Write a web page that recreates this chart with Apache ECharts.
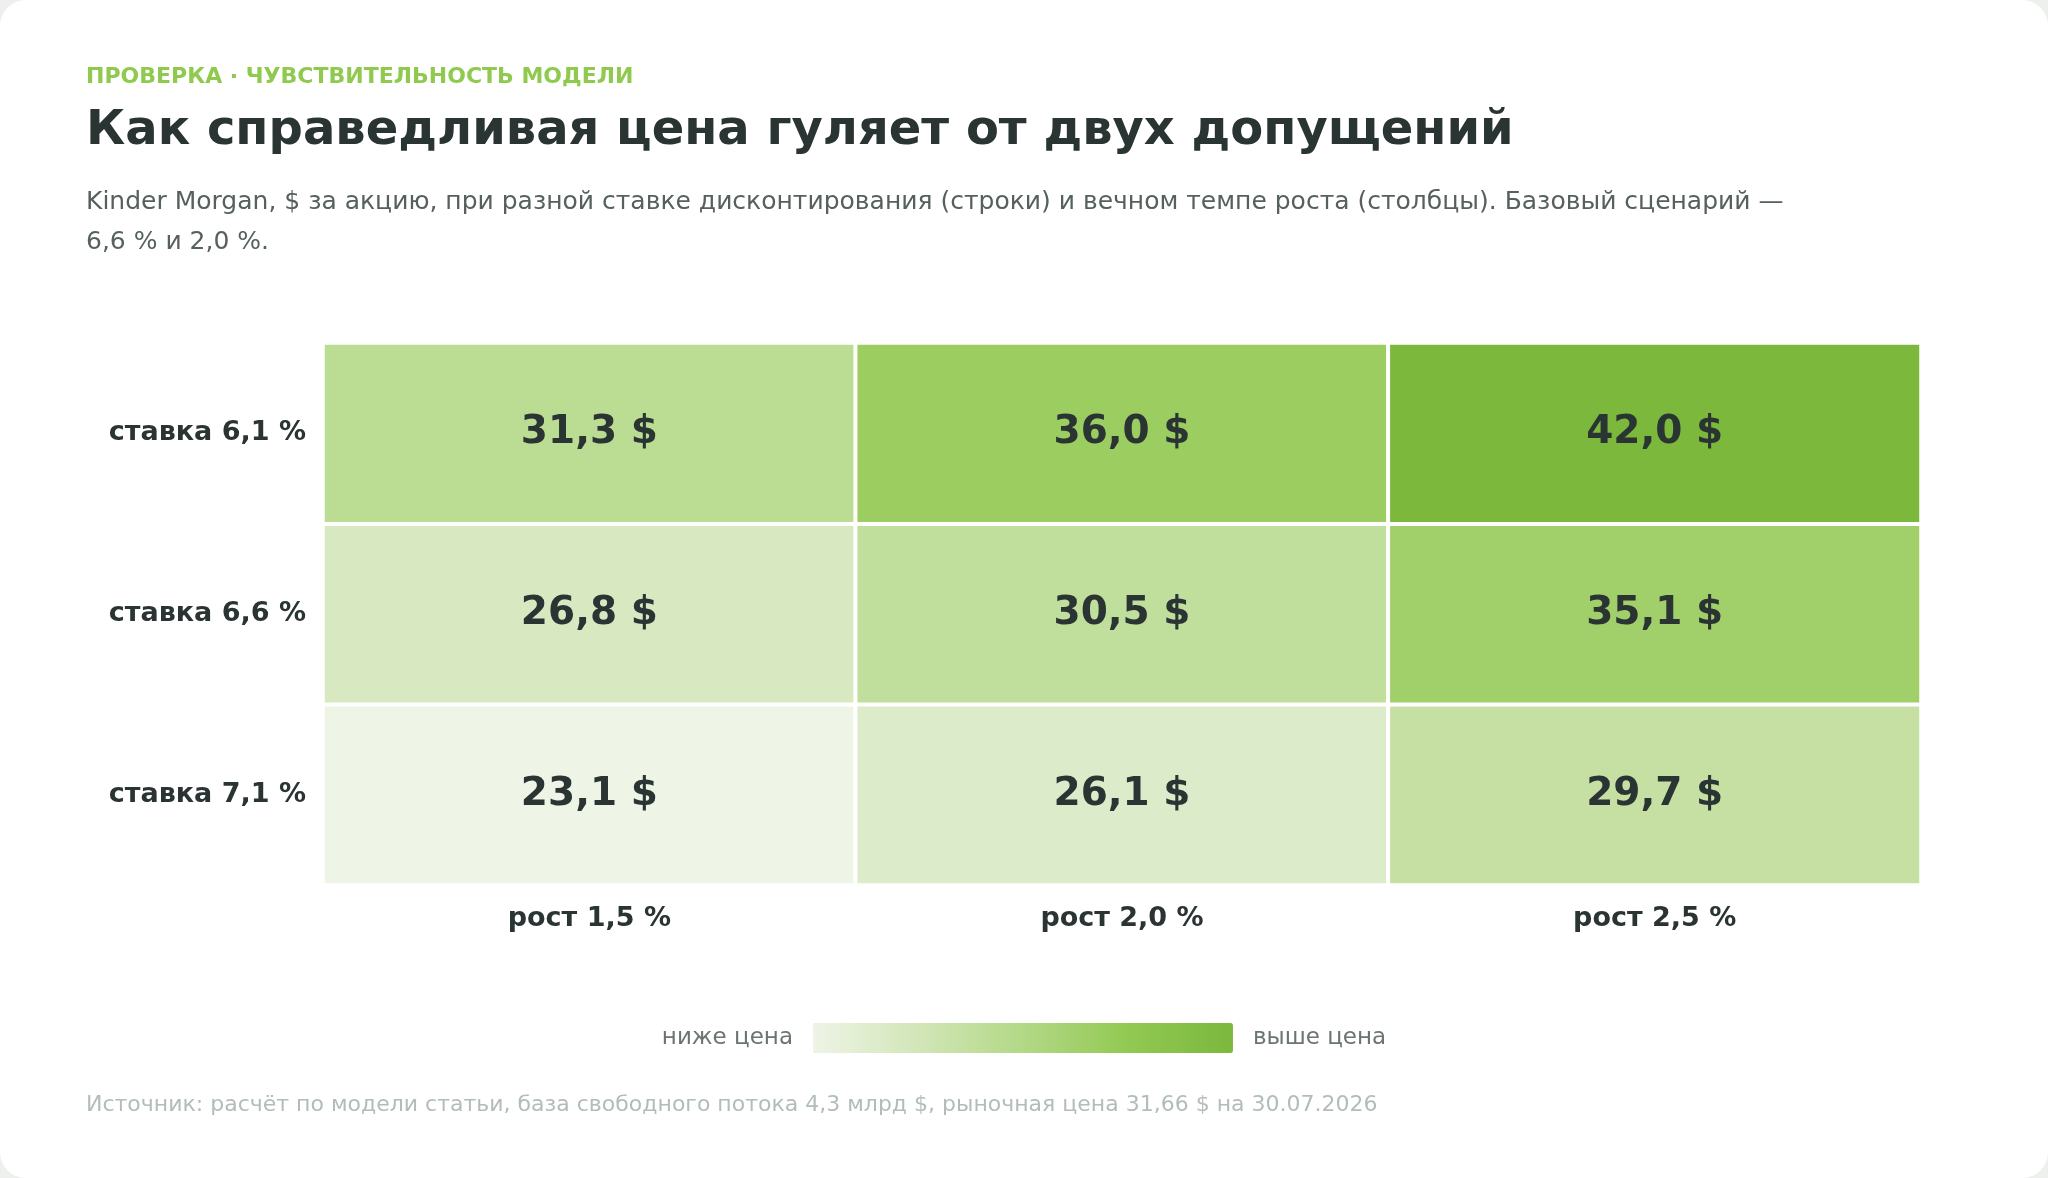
<!DOCTYPE html>
<html><head><meta charset="utf-8">
<script src="https://cdn.jsdelivr.net/npm/echarts@6/dist/echarts.min.js"></script>
<style>html,body{margin:0;padding:0;background:#eef0ee;}#c{width:2048px;height:1178px;background:#fff;border-radius:26px;overflow:hidden;}</style>
</head><body><div id="c"></div>
<script>
const growthCats = ['рост 1,5 %','рост 2,0 %','рост 2,5 %'];
const rateCats = ['ставка 7,1 %','ставка 6,6 %','ставка 6,1 %'];
const row61 = [31.3, 36.0, 42.0];
const row66 = [26.8, 30.5, 35.1];
const row71 = [23.1, 26.1, 29.7];
const rows = [row71, row66, row61];
const data = [];
rows.forEach((r, yi) => r.forEach((v, xi) => data.push([xi, yi, v])));
const font = 'DejaVu Sans';
const chart = echarts.init(document.getElementById('c'));
chart.setOption({
  textStyle:{fontFamily:font},
  title:[
    {text:'ПРОВЕРКА · ЧУВСТВИТЕЛЬНОСТЬ МОДЕЛИ',left:81,top:61,textStyle:{fontFamily:font,fontSize:22,fontWeight:'bold',color:'#8fca4f',letterSpacing:2}},
    {text:'Как справедливая цена гуляет от двух допущений',left:81,top:103,textStyle:{fontFamily:font,fontSize:48,fontWeight:'bold',color:'#2a3433'}},
    {text:'Kinder Morgan, $ за акцию, при разной ставке дисконтирования (строки) и вечном темпе роста (столбцы). Базовый сценарий —\n6,6 % и 2,0 %.',left:81,top:177,textStyle:{fontFamily:font,fontSize:25,fontWeight:'normal',color:'#56605f',lineHeight:40}},
    {text:'Источник: расчёт по модели статьи, база свободного потока 4,3 млрд $, рыночная цена 31,66 $ на 30.07.2026',left:81,top:1089,textStyle:{fontFamily:font,fontSize:22,fontWeight:'normal',color:'#b3bcbd'}}
  ],
  grid:{left:323,right:127,top:343,bottom:293},
  xAxis:{type:'category',data:growthCats,axisLine:{show:false},axisTick:{show:false},splitArea:{show:false},
    axisLabel:{fontFamily:font,fontSize:27,fontWeight:'bold',color:'#2a3433',margin:20}},
  yAxis:{type:'category',data:rateCats,axisLine:{show:false},axisTick:{show:false},
    axisLabel:{fontFamily:font,fontSize:27,fontWeight:'bold',color:'#2a3433',margin:17}},
  visualMap:{min:23.1,max:42.0,orient:'horizontal',left:'center',top:1008,itemWidth:30,itemHeight:420,calculable:false,
    text:['выше цена','ниже цена'],textGap:20,textStyle:{fontFamily:font,fontSize:23,color:'#6b7473'},
    inRange:{color:['#eef4e6','#d2e6b8','#b3d886','#92c953','#7bb83c']}},
  series:[{type:'heatmap',data:data,
    itemStyle:{borderColor:'#fff',borderWidth:4},
    label:{show:true,fontFamily:font,fontSize:39,fontWeight:'bold',color:'#2a3433',
      formatter:p=>p.value[2].toFixed(1).replace('.',',')+' $'},
    emphasis:{disabled:true}}]
});
</script></body></html>
